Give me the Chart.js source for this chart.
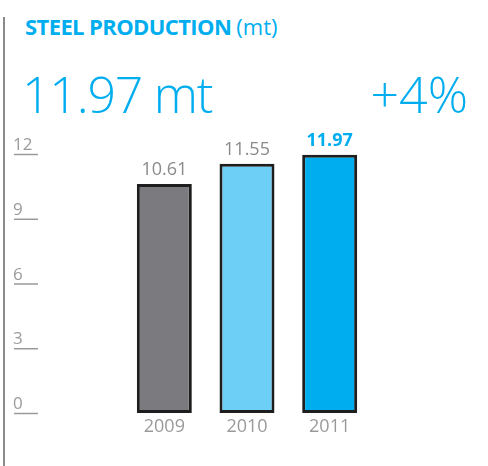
<!DOCTYPE html>
<html>
<head>
<meta charset="utf-8">
<script src="https://cdn.jsdelivr.net/npm/chart.js@4.4.1/dist/chart.umd.min.js"></script>
<style>
  html,body{margin:0;padding:0;background:#fff;}
  #wrap{position:relative;width:488px;height:466px;overflow:hidden;font-family:"Open Sans",sans-serif;}
  #vline{position:absolute;left:3px;top:17px;width:2px;height:460px;background:#8a8a8a;}
  #title{position:absolute;left:25px;top:11px;font-size:22px;color:#00aeef;font-weight:700;letter-spacing:-0.6px;white-space:nowrap;}
  #title span{font-weight:400;letter-spacing:0;}
  #big{position:absolute;left:22px;top:60px;font-size:50px;color:#00aeef;font-weight:300;letter-spacing:-1.2px;white-space:nowrap;}
  #pct{position:absolute;right:20px;top:60px;font-size:50px;color:#00aeef;font-weight:300;white-space:nowrap;}
  canvas{position:absolute;left:0;top:0;}
</style>
</head>
<body>
<div id="wrap">
  <div id="vline"></div>
  <div id="title">STEEL PRODUCTION <span>(mt)</span></div>
  <div id="big">11.97 mt</div>
  <div id="pct">+4%</div>
  <canvas id="c" width="488" height="466"></canvas>
</div>
<script>
const categories = ["2009", "2010", "2011"];
const production = [10.61, 11.55, 11.97];
const valueLabels = ["10.61", "11.55", "11.97"];
const yTicks = [0, 3, 6, 9, 12];
const barColors = ["#7b7a7f", "#6dcff6", "#00aeef"];

const overlay = {
  id: 'overlay',
  afterDatasetsDraw(chart) {
    const ctx = chart.ctx;
    const y = chart.scales.y;
    ctx.save();
    ctx.font = '17px "Open Sans", sans-serif';
    ctx.fillStyle = '#9a9a9a';
    ctx.textAlign = 'left';
    ctx.textBaseline = 'alphabetic';
    ctx.strokeStyle = '#9a9a9a';
    ctx.lineWidth = 1.5;
    yTicks.forEach(v => {
      const py = y.getPixelForValue(v);
      ctx.fillText(String(v), 13, py - 4);
      ctx.beginPath();
      ctx.moveTo(14, py + 0.5);
      ctx.lineTo(38, py + 0.5);
      ctx.stroke();
    });
    const meta = chart.getDatasetMeta(0);
    meta.data.forEach((bar, i) => {
      const last = i === meta.data.length - 1;
      ctx.font = (last ? '700 ' : '400 ') + '18px "Open Sans", sans-serif';
      ctx.fillStyle = last ? '#00aeef' : '#8a8a8a';
      ctx.textAlign = 'center';
      ctx.fillText(valueLabels[i], bar.x, bar.y - 9);
    });
    ctx.restore();
  }
};

new Chart(document.getElementById('c'), {
  type: 'bar',
  data: {
    labels: categories,
    datasets: [{
      data: production,
      backgroundColor: barColors,
      borderColor: '#1e1e1e',
      borderWidth: 3,
      borderSkipped: false,
      categoryPercentage: 1,
      barPercentage: 0.665
    }]
  },
  options: {
    responsive: false,
    animation: false,
    events: [],
    layout: { padding: { left: 123, right: 117, top: 154, bottom: 0 } },
    plugins: { legend: { display: false }, tooltip: { enabled: false }, title: { display: false } },
    scales: {
      y: { display: false, min: 0, max: 12 },
      x: {
        grid: { display: false },
        border: { display: false },
        ticks: { color: '#9a9a9a', font: { size: 18, family: '"Open Sans", sans-serif' }, padding: -5 },
        afterFit(scale) { scale.height = 53; }
      }
    }
  },
  plugins: [overlay]
});
</script>
</body>
</html>
